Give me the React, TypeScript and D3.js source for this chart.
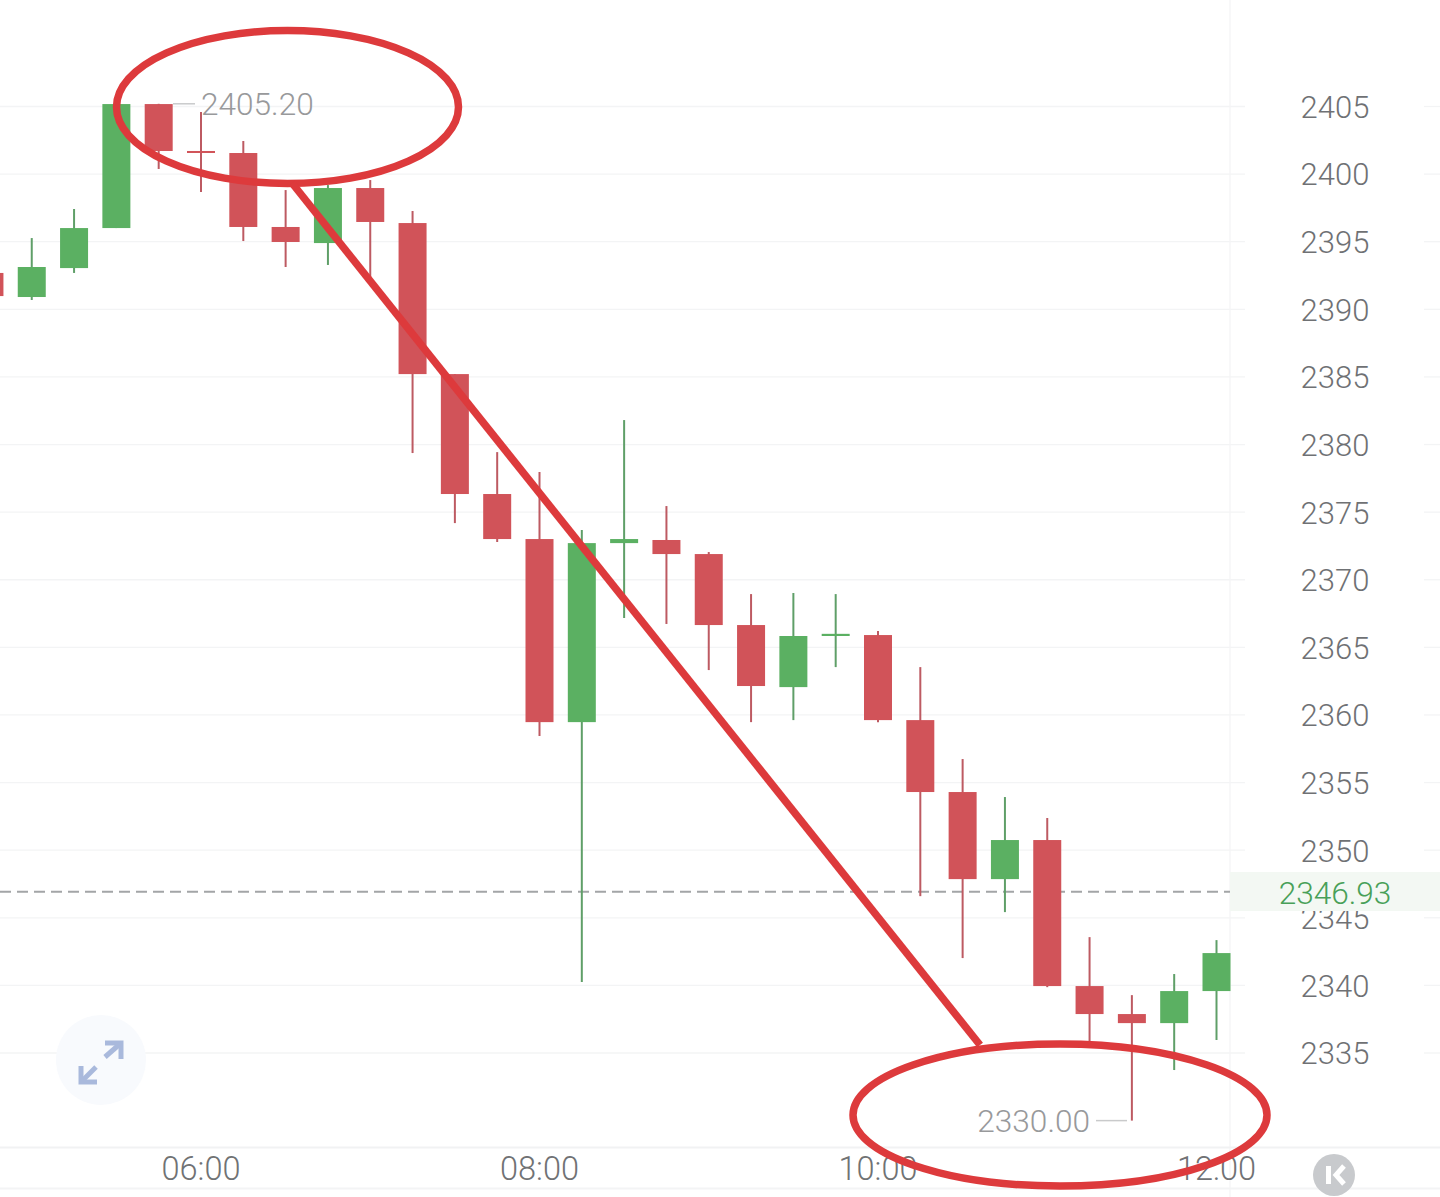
import React from "react";
import * as d3 from "d3";

const W = 1440, H = 1197;
// Candle open times, minutes after midnight (15 minute candles)
const minutes = [285,300,315,330,345,360,375,390,405,420,435,450,465,480,495,510,525,540,555,570,585,600,615,630,645,660,675,690,705,720];
const opens  = [2392.69,2390.91,2393.05,2396.01,2405.18,2401.71,2401.56,2396.09,2394.9,2398.97,2396.38,2385.21,2376.34,2373.01,2359.47,2372.71,2372.94,2371.9,2366.65,2362.06,2365.84,2365.91,2359.62,2354.3,2347.86,2350.75,2339.95,2337.88,2337.21,2339.58];
const closes = [2390.98,2393.13,2396.01,2405.18,2401.71,2401.63,2396.09,2394.98,2398.97,2396.46,2385.21,2376.34,2373.01,2359.47,2372.71,2373.01,2371.9,2366.65,2362.14,2365.84,2366.0,2359.62,2354.3,2347.86,2350.75,2339.95,2337.88,2337.21,2339.58,2342.39];
const highs  = [2393.2,2395.27,2397.42,2405.18,2405.2,2404.59,2402.45,2398.82,2399.19,2399.56,2397.27,2385.21,2379.44,2377.96,2373.68,2381.81,2375.45,2372.05,2368.94,2369.02,2368.94,2366.21,2363.54,2356.74,2353.93,2352.38,2343.57,2339.28,2340.84,2343.35];
const lows   = [2390.5,2390.69,2392.69,2396.01,2400.38,2398.68,2395.05,2393.13,2393.28,2392.17,2379.37,2374.19,2372.79,2358.44,2340.25,2367.17,2366.73,2363.32,2359.47,2359.62,2363.54,2359.47,2346.6,2342.02,2345.42,2339.87,2335.66,2330.0,2333.74,2335.96];
const priceTicks = [2405,2400,2395,2390,2385,2380,2375,2370,2365,2360,2355,2350,2345,2340,2335];
const timeTicks = [360,480,600,720];
const timeLabels = ["06:00","08:00","10:00","12:00"];
const lastPrice = 2346.93;
const maxPrice = 2405.2;
const minPrice = 2330.0;

const RED = "#d15359", GREEN = "#5bb062", MARK = "#dd3a3c";
const FONT = "Roboto, sans-serif";

const y = d3.scaleLinear().domain([2405, 2335]).range([106.5, 1053]);
const x = d3.scaleLinear().domain([360, 720]).range([201, 1216.5]);
const BW = 28;

export default function App() {
  const line = d3.line();
  return (
    <svg width={W} height={H} viewBox={`0 0 ${W} ${H}`}
      style={{ position: "absolute", left: 0, top: 0, background: "#fff", display: "block" }}
      fontFamily={FONT} fontWeight={300}>
      {/* grid */}
      {priceTicks.map(t => (
        <g key={t}>
          <line x1={0} x2={1245} y1={y(t)} y2={y(t)} stroke="#f3f4f5" strokeWidth={1.3} />
          <line x1={1424} x2={1440} y1={y(t)} y2={y(t)} stroke="#f3f4f5" strokeWidth={1.3} />
        </g>
      ))}
      <line x1={1230} x2={1230} y1={0} y2={H} stroke="#f4f5f6" strokeWidth={1.3} />
      <line x1={0} x2={1440} y1={1147.5} y2={1147.5} stroke="#f1f2f3" strokeWidth={2} />
      <line x1={0} x2={1440} y1={1188.5} y2={1188.5} stroke="#f3f4f5" strokeWidth={2} />

      {/* price axis labels */}
      {priceTicks.map(t => (
        <text key={t} x={1335} y={y(t) + 0.2} dy="0.36em" textAnchor="middle" fontSize={31} fill="#6f7174">{t}</text>
      ))}

      {/* last price */}
      <line x1={0} x2={1230} y1={y(lastPrice)} y2={y(lastPrice)} stroke="#a3a5a7" strokeWidth={2} strokeDasharray="11 6" />
      <rect x={1230} y={872} width={210} height={39} fill="#f3f8f3" />
      <text x={1335} y={y(lastPrice) + 0.5} dy="0.36em" textAnchor="middle" fontSize={31.6} fill="#48a058">{lastPrice.toFixed(2)}</text>

      {/* candles */}
      {minutes.map((m, i) => {
        const up = closes[i] >= opens[i] && i !== 5;
        const c = up ? GREEN : RED;
        const wick = up ? "#5f9f68" : "#bd5a62";
        const top = y(Math.max(opens[i], closes[i]));
        const bot = y(Math.min(opens[i], closes[i]));
        const cx = x(m);
        return (
          <g key={m}>
            <line x1={cx} x2={cx} y1={y(highs[i])} y2={y(lows[i])} stroke={wick} strokeWidth={2} />
            <rect x={cx - BW / 2} y={top} width={BW} height={Math.max(bot - top, 2)} fill={c} />
          </g>
        );
      })}

      {/* max / min callouts */}
      <line x1={173} x2={195} y1={y(maxPrice)} y2={y(maxPrice)} stroke="#c9cacb" strokeWidth={1.5} />
      <text x={201} y={y(maxPrice)} dy="0.36em" fontSize={31.6} fill="#98999b">{maxPrice.toFixed(2)}</text>
      <line x1={1096} x2={1127} y1={y(minPrice)} y2={y(minPrice)} stroke="#c9cacb" strokeWidth={1.5} />
      <text x={1090} y={y(minPrice)} dy="0.36em" textAnchor="end" fontSize={31.6} fill="#98999b">{minPrice.toFixed(2)}</text>

      {/* time axis */}
      {timeTicks.map((t, i) => (
        <text key={t} x={x(t)} y={1168} dy="0.36em" textAnchor="middle" fontSize={32.5} fill="#707274">{timeLabels[i]}</text>
      ))}

      {/* expand button */}
      <circle cx={101} cy={1060} r={45} fill="#f8fafd" />
      <g fill="none" stroke="#a9b9dc" strokeWidth={5}>
        <path d={line([[105, 1057], [121, 1043]]) ?? ""} />
        <path d={line([[105, 1043], [121, 1043], [121, 1059]]) ?? ""} />
        <path d={line([[81, 1082], [96, 1067]]) ?? ""} />
        <path d={line([[81, 1066], [81, 1082], [97, 1082]]) ?? ""} />
      </g>

      {/* collapse button */}
      <circle cx={1334} cy={1175} r={21} fill="#c8cacd" />
      <rect x={1326} y={1166} width={5} height={18} fill="#fff" />
      <path d={line([[1344, 1166], [1336, 1175], [1344, 1184]]) ?? ""} fill="none" stroke="#fff" strokeWidth={5} />

      {/* hand-drawn annotation */}
      <ellipse cx={287.5} cy={107} rx={171} ry={76.5} fill="none" stroke={MARK} strokeWidth={7.5} />
      <ellipse cx={1060} cy={1115} rx={207} ry={71} fill="none" stroke={MARK} strokeWidth={7.5} />
      <path d={line([[292, 183], [980, 1045]]) ?? ""} fill="none" stroke={MARK} strokeWidth={7.5} />
    </svg>
  );
}
